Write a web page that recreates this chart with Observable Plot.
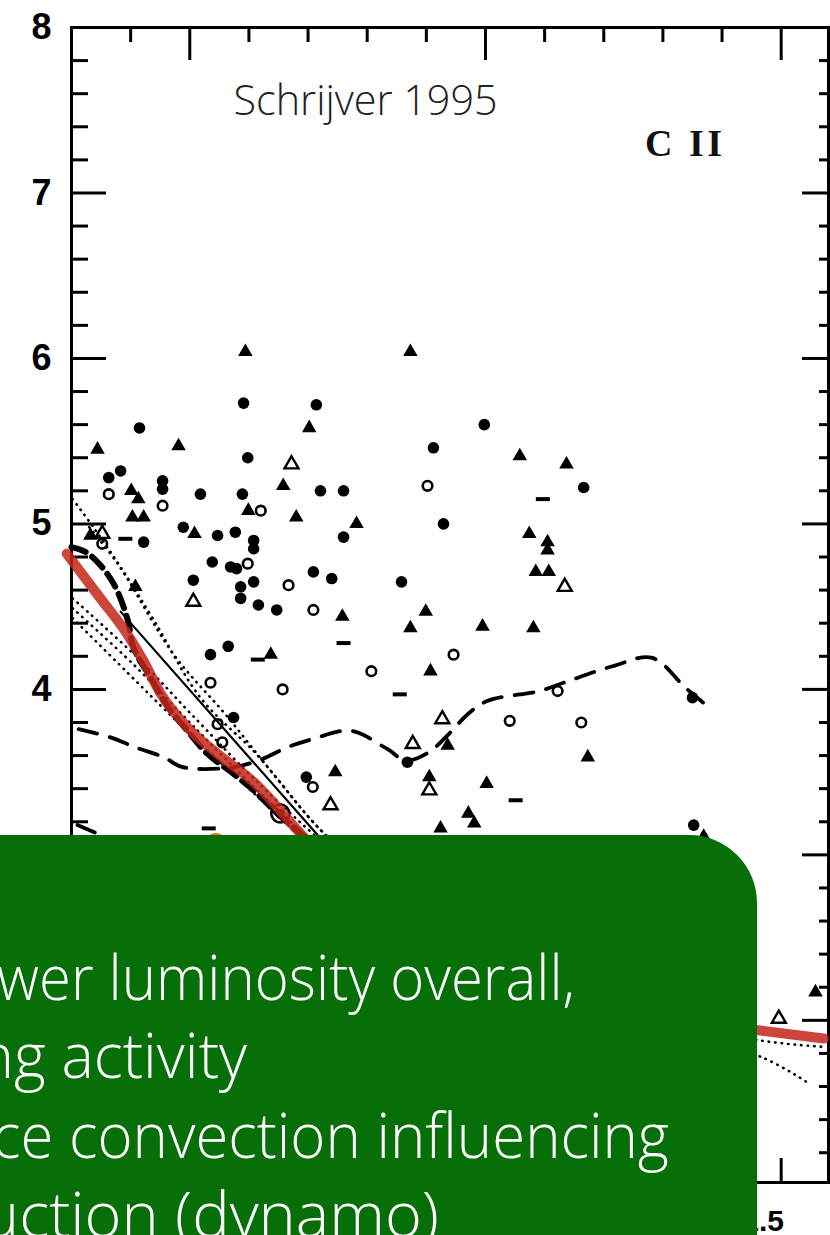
<!DOCTYPE html>
<html><head><meta charset="utf-8">
<script src="https://cdn.jsdelivr.net/npm/d3@7"></script>
<script src="https://cdn.jsdelivr.net/npm/@observablehq/plot@0.6"></script>
<style>
html,body{margin:0;padding:0;background:#fff;overflow:hidden;width:830px;height:1235px;}
#wrap{position:relative;width:830px;height:1235px;overflow:hidden;}
#chart{position:absolute;left:0;top:0;}
#box{position:absolute;left:-60px;top:835px;width:817px;height:460px;background:#076f07;border-top-right-radius:68px;}
#overlay{position:absolute;left:0;top:0;pointer-events:none;}
</style></head>
<body><div id="wrap"><div id="chart"></div><div id="box"></div><svg id="overlay" width="830" height="1235"></svg></div>
<script>
// ---- data (B-V colour, log flux) ----
const filledCircles = [
  [0.591,5.73],[0.714,5.72],[0.415,5.58],[0.598,5.40],[0.363,5.28],[0.383,5.32],
  [0.454,5.26],[0.454,5.21],[0.518,5.18],[0.589,5.18],[0.721,5.20],[0.760,5.20],
  [0.760,4.92],[0.422,4.89],[0.489,4.98],[0.547,4.93],[0.577,4.95],[0.608,4.90],
  [0.608,4.85],[0.538,4.77],[0.569,4.74],[0.579,4.73],[0.506,4.66],[0.586,4.62],
  [0.586,4.55],[0.608,4.65],[0.616,4.51],[0.647,4.48],[0.709,4.71],[0.740,4.67],
  [0.858,4.65],[0.535,4.21],[0.565,4.26],[0.574,3.83],[0.697,3.47],[0.868,3.56],
  [0.998,5.60],[0.912,5.46],[1.166,5.22],[0.929,5.00],[1.350,3.95],[1.352,3.18]
];
const filledTriangles = [
  [0.594,6.04],[0.873,6.04],[0.344,5.45],[0.481,5.47],[0.702,5.58],[0.658,5.23],
  [0.680,5.04],[0.782,5.00],[0.403,5.04],[0.422,5.04],[0.413,5.15],[0.401,5.20],
  [0.599,5.08],[0.332,4.93],[0.508,4.94],[0.408,4.62],[0.758,4.44],[0.873,4.37],
  [0.637,4.21],[0.746,3.50],[1.058,5.41],[1.137,5.36],[1.074,4.94],[1.105,4.89],
  [1.105,4.84],[1.085,4.71],[1.107,4.71],[0.899,4.47],[0.995,4.38],[1.081,4.37],
  [0.907,4.11],[0.936,3.66],[1.173,3.59],[0.905,3.47],[1.002,3.43],[0.971,3.25],
  [0.981,3.19],[0.924,3.16],[1.369,3.11],[1.558,2.17]
];
const openCircles = [
  [0.363,5.18],[0.454,5.11],[0.620,5.08],[0.352,4.88],[0.598,4.76],[0.667,4.63],
  [0.709,4.48],[0.807,4.11],[0.657,4.00],[0.535,4.04],[0.547,3.79],[0.555,3.68],
  [0.708,3.41],[0.902,5.23],[0.946,4.21],[1.122,3.99],[1.041,3.81],[1.162,3.80]
];
const openTriangles = [
  [0.672,5.36],[0.352,4.94],[0.506,4.53],[0.738,3.30],[1.134,4.62],[0.927,3.82],
  [0.877,3.67],[0.905,3.39],[1.496,2.01]
];
const upperLimits = [
  [0.391,4.91],[0.760,4.28],[0.615,4.18],[0.855,3.97],[1.097,5.15],[1.051,3.33],[0.532,3.16]
];
const circledDots = [[0.653,3.25]];
const highlightStar = [[0.544,3.06]];

const meanCurve = [
  [0.312,3.76],[0.366,3.71],[0.408,3.65],[0.456,3.59],[0.488,3.53],[0.574,3.53],
  [0.623,3.58],[0.665,3.65],[0.708,3.70],[0.772,3.75],[0.834,3.64],[0.865,3.57],
  [0.904,3.62],[0.938,3.73],[0.970,3.85],[1.003,3.93],[1.091,3.99],[1.132,4.04],
  [1.215,4.14],[1.282,4.19],[1.338,4.01],[1.375,3.90]
];
const lowerDashed = [[0.310,3.18],[0.362,3.10]];
const basalHeavy = [
  [0.300,4.86],[0.324,4.83],[0.349,4.75],[0.374,4.62],[0.395,4.42],[0.405,4.25],
  [0.434,4.07],[0.462,3.90],[0.496,3.75],[0.530,3.61],[0.574,3.49],[0.608,3.39],
  [0.648,3.25],[0.687,3.13],[0.720,3.02]
];
const solidFit = [[0.383,4.47],[0.721,3.10],[0.760,2.95]];
const dottedA = [
  [0.302,5.15],[0.337,4.98],[0.383,4.74],[0.439,4.42],[0.518,3.95],[0.615,3.60],
  [0.716,3.17],[0.900,2.55],[1.200,2.10],[1.462,1.88],[1.572,1.84]
];
const dottedB = [
  [0.330,4.98],[0.378,4.76],[0.473,4.21],[0.560,3.85],[0.650,3.45],[0.730,3.12],
  [0.950,2.50],[1.200,2.02],[1.465,1.78],[1.546,1.62]
];
const dottedC = [
  [0.302,4.55],[0.412,4.19],[0.500,3.86],[0.620,3.42],[0.750,3.00],[1.000,2.30],[1.250,1.70]
];
const dottedD = [
  [0.302,4.49],[0.405,4.15],[0.500,3.80],[0.620,3.37],[0.750,2.95],[1.000,2.25]
];
const dottedE = [
  [0.302,4.43],[0.395,4.10],[0.480,3.80],[0.600,3.40],[0.750,2.90]
];
const overlayCurve = [
  [0.292,4.82],[0.349,4.55],[0.395,4.33],[0.422,4.17],[0.450,3.98],[0.496,3.77],
  [0.547,3.61],[0.608,3.44],[0.687,3.13],[0.800,2.72],[1.000,2.30],[1.200,2.08],
  [1.400,1.97],[1.462,1.94],[1.572,1.89]
];

const yMajorTicks = [2,3,4,5,6,7];
const yMinorTicks = [1.2,1.4,1.6,1.8,2.2,2.4,2.6,2.8,3.2,3.4,3.6,3.8,4.2,4.4,4.6,4.8,5.2,5.4,5.6,5.8,6.2,6.4,6.6,6.8,7.2,7.4,7.6,7.8];
const yTickLabels = [4,5,6,7,8];
const xMajorTicks = [0.5,1.0,1.5];
const xMinorTicks = [0.4,0.6,0.7,0.8,0.9,1.1,1.2,1.3,1.4];
const xTickLabels = [1.5];
const annotations = [
  {x:0.574, y:7.553, text:"Schrijver 1995"},
];
const ionLabel = [{x:1.335, y:7.296, text:"C II"}];
const slideLines = ["wer luminosity overall,","ng activity","ce convection influencing","uction (dynamo)"];

// ---- chart ----
const W = 830, H = 1235, mL = 71, mR = 2, mT = 27, mB = 53;
const PW = W - mL - mR, PH = H - mT - mB;
const X = d => d[0], Y = d => d[1];
const dashSymbol = {draw(ctx){ctx.moveTo(-7,-2);ctx.lineTo(7,-2);ctx.lineTo(7,2);ctx.lineTo(-7,2);ctx.closePath();}};
const dotted = {curve: "catmull-rom", strokeWidth: 2.6, strokeDasharray: "0.5,6", strokeLinecap: "round"};

const plot = Plot.plot({
  width: W, height: H,
  marginLeft: mL, marginRight: mR, marginTop: mT, marginBottom: mB,
  x: {domain: [0.3, 1.58]},
  y: {domain: [1.02, 8]},
  style: {fontFamily: "Liberation Sans, Arial, sans-serif", background: "#fff", color: "#000", overflow: "visible"},
  marks: [
    // ticks inward
    Plot.tickY(yMinorTicks, {y: d => d, insetRight: PW - 17, strokeWidth: 3}),
    Plot.tickY(yMajorTicks, {y: d => d, insetRight: PW - 35, strokeWidth: 3}),
    Plot.tickY(yMinorTicks, {y: d => d, insetLeft: PW - 9, strokeWidth: 3}),
    Plot.tickY(yMajorTicks, {y: d => d, insetLeft: PW - 26, strokeWidth: 3}),
    Plot.tickX(xMinorTicks, {x: d => d, insetBottom: PH - 15, strokeWidth: 3}),
    Plot.tickX(xMajorTicks, {x: d => d, insetBottom: PH - 33, strokeWidth: 3}),
    Plot.tickX(xMinorTicks, {x: d => d, insetTop: PH - 12, strokeWidth: 3}),
    Plot.tickX(xMajorTicks, {x: d => d, insetTop: PH - 24, strokeWidth: 3}),
    Plot.frame({strokeWidth: 3}),
    Plot.axisY(yTickLabels, {tickSize: 0, tickPadding: 20, fontSize: 36, fontWeight: "bold", label: null, tickFormat: d => String(d)}),
    Plot.axisX(xTickLabels, {anchor: "bottom", tickSize: 0, tickPadding: 27, fontSize: 30, fontWeight: "bold", dx: -18, label: null, tickFormat: d3.format(".1f")}),
    // lines
    Plot.line(dottedA, {x: X, y: Y, ...dotted}),
    Plot.line(dottedB, {x: X, y: Y, ...dotted}),
    Plot.line(dottedC, {x: X, y: Y, ...dotted}),
    Plot.line(dottedD, {x: X, y: Y, ...dotted}),
    Plot.line(dottedE, {x: X, y: Y, ...dotted}),
    Plot.line(solidFit, {x: X, y: Y, strokeWidth: 2.2}),
    Plot.line(meanCurve, {x: X, y: Y, curve: "catmull-rom", strokeWidth: 3.8, strokeDasharray: "19,13"}),
    Plot.line(lowerDashed, {x: X, y: Y, strokeWidth: 3.8, strokeDasharray: "19,13"}),
    Plot.line(basalHeavy, {x: X, y: Y, curve: "catmull-rom", strokeWidth: 6, strokeDasharray: "15,8"}),
    // points
    Plot.dot(filledCircles, {x: X, y: Y, r: 5.8, fill: "#000", stroke: null}),
    Plot.dot(filledTriangles, {x: X, y: Y, r: 5.4, symbol: "triangle", fill: "#000", stroke: null}),
    Plot.dot(openCircles, {x: X, y: Y, r: 4.8, fill: "none", stroke: "#000", strokeWidth: 2.6}),
    Plot.dot(openTriangles, {x: X, y: Y, r: 5.2, symbol: "triangle", fill: "none", stroke: "#000", strokeWidth: 2.4}),
    Plot.dot(upperLimits, {x: X, y: Y, symbol: dashSymbol, fill: "#000", stroke: null}),
    Plot.dot(circledDots, {x: X, y: Y, r: 9, fill: "none", stroke: "#000", strokeWidth: 2.6}),
    Plot.dot(circledDots, {x: X, y: Y, r: 4.5, fill: "#000", stroke: null}),
    // presenter overlay
    Plot.line(overlayCurve, {x: X, y: Y, curve: "monotone-x", stroke: "#c3261a", strokeOpacity: 0.85, strokeWidth: 10, strokeLinecap: "round"}),
    Plot.dot(highlightStar, {x: X, y: Y, r: 12, fill: "#f47b00", stroke: null}),
    // annotations
    Plot.text(annotations, {x: "x", y: "y", text: "text", textAnchor: "start", fontSize: 42, fontWeight: 300, fontFamily: "Open Sans, Lato, sans-serif", fill: "#222"}),
    Plot.text(ionLabel, {x: "x", y: "y", text: "text", textAnchor: "middle", fontSize: 38, fontWeight: "bold", fontFamily: "Liberation Serif, Times New Roman, serif", fill: "#111"})
  ]
});
document.getElementById("chart").appendChild(plot);

// fit annotation widths to the reference
plot.querySelectorAll("text").forEach(t => {
  if (t.textContent === "Schrijver 1995") { t.setAttribute("textLength", 264); t.setAttribute("lengthAdjust", "spacingAndGlyphs"); }
  if (t.textContent === "C II") { t.setAttribute("textLength", 77); t.setAttribute("lengthAdjust", "spacing"); }
});

// slide text over the green panel
const layout = [
  {x: -3, base: 1000, len: 578},
  {x: -22, base: 1078, len: 269},
  {x: -8, base: 1158, len: 677},
  {x: -18, base: 1237, len: 457}
];
const ov = d3.select("#overlay");
ov.selectAll("text").data(slideLines).join("text")
  .attr("x", (d, i) => layout[i].x)
  .attr("y", (d, i) => layout[i].base)
  .attr("textLength", (d, i) => layout[i].len)
  .attr("lengthAdjust", "spacingAndGlyphs")
  .attr("fill", "#fff")
  .attr("font-family", "Open Sans, Lato, sans-serif")
  .attr("font-weight", 300)
  .attr("font-size", 62)
  .text(d => d);
</script>
</body></html>
